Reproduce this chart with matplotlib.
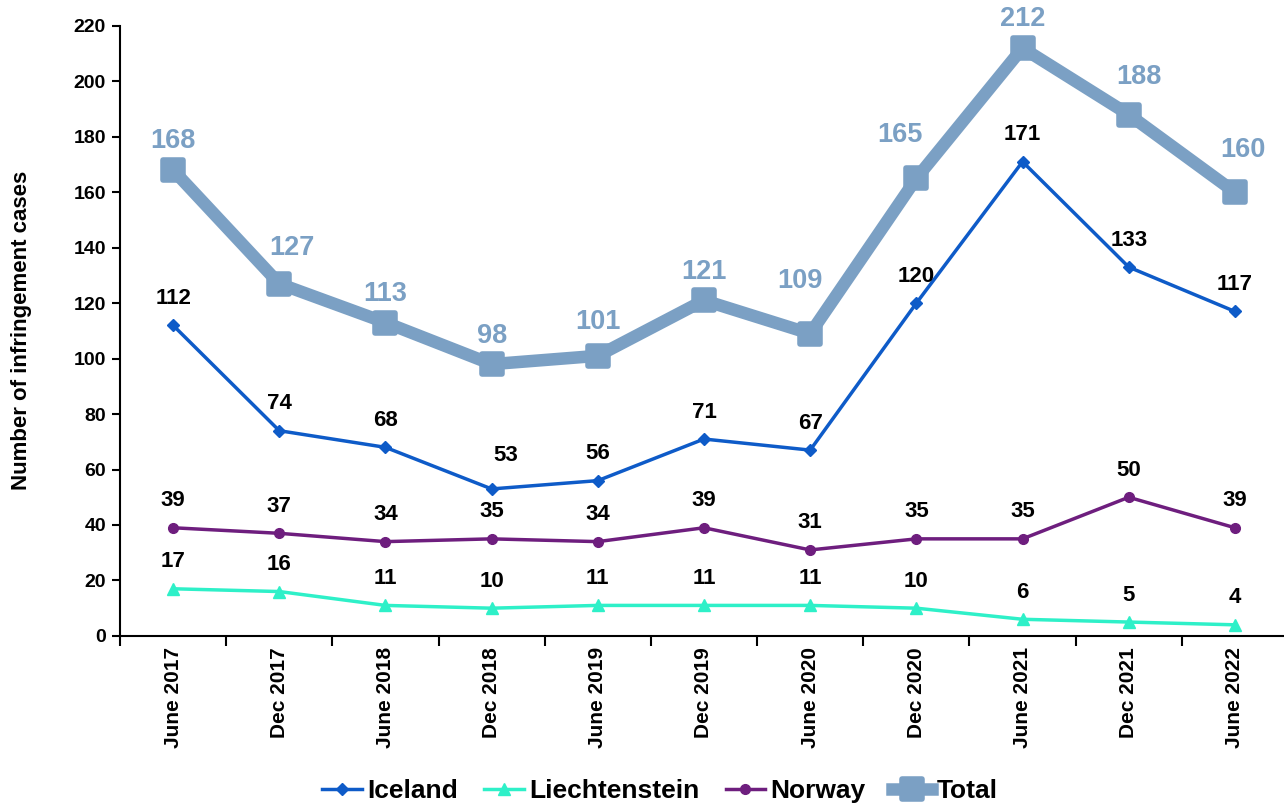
import matplotlib
matplotlib.use("Agg")
from matplotlib import pyplot as plt
from matplotlib.markers import MarkerStyle
import numpy as np

periods = ["June 2017", "Dec 2017", "June 2018", "Dec 2018", "June 2019", "Dec 2019",
           "June 2020", "Dec 2020", "June 2021", "Dec 2021", "June 2022"]
iceland = [112, 74, 68, 53, 56, 71, 67, 120, 171, 133, 117]
liechtenstein = [17, 16, 11, 10, 11, 11, 11, 10, 6, 5, 4]
norway = [39, 37, 34, 35, 34, 39, 31, 35, 35, 50, 39]
total = [168, 127, 113, 98, 101, 121, 109, 165, 212, 188, 160]

# label placement tweaks (pixels, dx/dy from the point)
total_label_px = [(0, 29), (13, 36), (0, 29), (0, 28), (0, 34), (0, 28),
                  (-10, 53), (-16, 43), (0, 29), (10, 38), (8, 42)]
iceland_label_px = [(0, 27)] * 3 + [(14, 33)] + [(0, 27)] * 7

plt.rcParams['font.family'] = ['Liberation Sans', 'DejaVu Sans']
plt.rcParams['font.weight'] = 'bold'

fig = plt.figure(figsize=(12.84, 8.07), dpi=100)
ax = fig.add_axes([120 / 1284, 0.212, 1168 / 1284, 0.756])

x = np.arange(len(periods))
px = 72 / 100  # pixel -> points

sq = MarkerStyle("s", joinstyle="round")
ax.plot(x, total, color="#7BA0C4", lw=9, marker=sq, ms=14, solid_joinstyle="round",
        markeredgewidth=4, markeredgecolor="#7BA0C4", label="Total", zorder=2, clip_on=False)
ax.plot(x, iceland, color="#0E5BC8", lw=2.5, marker="D", ms=6, label="Iceland", zorder=3)
ax.plot(x, liechtenstein, color="#2EF0C8", lw=2.5, marker="^", ms=8, label="Liechtenstein", zorder=3)
ax.plot(x, norway, color="#6E1E7E", lw=2.5, marker="o", ms=7, label="Norway", zorder=3)

for i in x:
    dx, dy = total_label_px[i]
    ax.annotate(str(total[i]), (i, total[i]), xytext=(dx * px, dy * px), textcoords="offset points",
                ha="center", va="center", fontsize=19.5, color="#7BA0C4", fontweight="bold")
    dx, dy = iceland_label_px[i]
    ax.annotate(str(iceland[i]), (i, iceland[i]), xytext=(dx * px, dy * px), textcoords="offset points",
                ha="center", va="center", fontsize=16, color="black", fontweight="bold")
    for series in (liechtenstein, norway):
        ax.annotate(str(series[i]), (i, series[i]), xytext=(0, 27 * px), textcoords="offset points",
                    ha="center", va="center", fontsize=16, color="black", fontweight="bold")

ax.set_xlim(-0.5, len(periods) - 0.5)
ax.set_ylim(0, 220)
ax.set_yticks(range(0, 221, 20))
ax.tick_params(axis="y", labelsize=14, direction="out", length=6, width=1.5, pad=4)
ax.set_xticks(x)
ax.set_xticklabels(periods, rotation=90, fontsize=15, fontweight="bold")
ax.tick_params(axis="x", length=0, pad=8)
ax.set_xticks(np.arange(-0.5, len(periods)), minor=True)
ax.tick_params(axis="x", which="minor", direction="out", length=7, width=1.5)

for s in ["top", "right"]:
    ax.spines[s].set_visible(False)
for s in ["left", "bottom"]:
    ax.spines[s].set_linewidth(1.5)

ax.set_ylabel("Number of infringement cases", fontsize=16, fontweight="bold")
ax.yaxis.set_label_coords(-0.0755, 0.5)

handles, labels = ax.get_legend_handles_labels()
order = [1, 2, 3, 0]
ax.legend([handles[i] for i in order], [labels[i] for i in order], loc="center",
          bbox_to_anchor=((660 - 120) / 1168, -0.255), ncol=4, frameon=False,
          handlelength=1.5, handletextpad=0.2, columnspacing=1.0,
          prop={"size": 19, "weight": "bold"})

fig.savefig("out.png", dpi=100)
